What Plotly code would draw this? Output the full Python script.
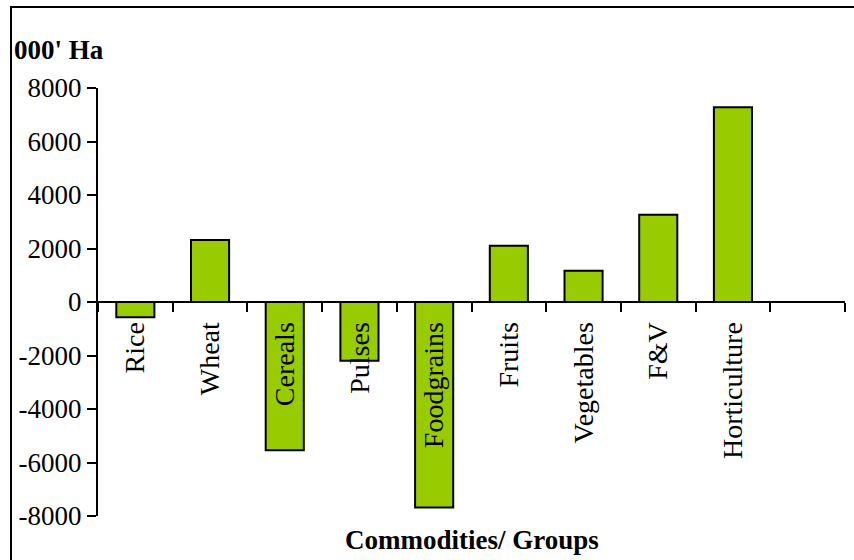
import plotly.graph_objects as go

categories = ["Rice", "Wheat", "Cereals", "Pulses", "Foodgrains", "Fruits",
              "Vegetables", "F&V", "Horticulture", " "]
values = [-570, 2320, -5540, -2200, -7680, 2100, 1170, 3260, 7280, None]
y_ticks = [-8000, -6000, -4000, -2000, 0, 2000, 4000, 6000, 8000]
y_tick_labels = ["-8000", "-6000", "-4000", "-2000", "0", "2000", "4000", "6000", "8000"]

W, H = 854, 560
L, R, T, B = 98, 9, 88, 44
pw, ph = W - L - R, H - T - B

def px(x):
    return (x - L) / pw

def py(y):
    return (H - B - y) / ph

FONT = "Liberation Serif, Times New Roman, serif"

fig = go.Figure(go.Bar(
    x=categories, y=values,
    marker=dict(color="#99CC00", line=dict(color="black", width=2)),
))

fig.update_layout(
    width=W, height=H,
    margin=dict(l=L, r=R, t=T, b=B),
    paper_bgcolor="white", plot_bgcolor="white",
    bargap=0.49,
    showlegend=False,
    font=dict(family=FONT, size=27, color="black"),
    xaxis=dict(
        type="category", anchor="free", position=0.5,
        showline=True, linecolor="black", linewidth=2,
        ticks="outside", ticklen=9, tickwidth=2, tickcolor="black",
        tickson="boundaries", tickangle=-90, ticklabelstandoff=8,
        showgrid=False, zeroline=False,
        range=[-0.5, 9.5],
        tickfont=dict(family=FONT, size=28, color="black"),
    ),
    yaxis=dict(
        range=[-8000, 8000], tickvals=y_ticks, ticktext=y_tick_labels,
        showline=True, linecolor="black", linewidth=2,
        ticks="outside", ticklen=9, tickwidth=2, tickcolor="black",
        showgrid=False, zeroline=False,
        tickfont=dict(family=FONT, size=27, color="black"),
    ),
    annotations=[
        dict(text="<b>000' Ha</b>", xref="paper", yref="paper",
             x=px(12), y=py(50), xanchor="left", yanchor="middle",
             showarrow=False, font=dict(family=FONT, size=27, color="black")),
        dict(text="<b>Commodities/ Groups</b>", xref="paper", yref="paper",
             x=0.5, y=py(540), xanchor="center", yanchor="middle",
             showarrow=False, font=dict(family=FONT, size=27, color="black")),
    ],
    shapes=[
        dict(type="rect", xref="paper", yref="paper",
             x0=px(11), x1=px(900), y0=py(600), y1=py(7),
             line=dict(color="black", width=2), fillcolor="rgba(0,0,0,0)",
             layer="above"),
    ],
)

fig.write_html("out.html", config={"displayModeBar": False},
               post_script="document.body.style.margin='0';")
